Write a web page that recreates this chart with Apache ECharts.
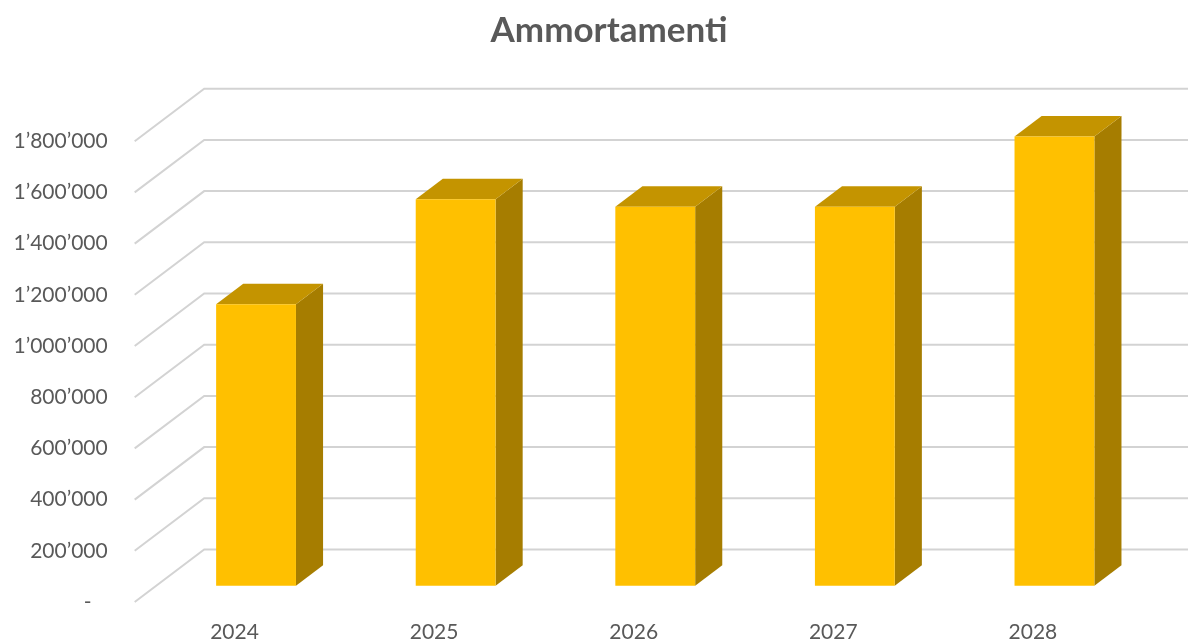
<!DOCTYPE html>
<html>
<head>
<meta charset="utf-8">
<script src="https://cdn.jsdelivr.net/npm/echarts@6/dist/echarts.min.js"></script>
<style>
  html, body { margin: 0; padding: 0; background: #ffffff; }
  #chart { width: 1188px; height: 642px; }
</style>
</head>
<body>
<div id="chart"></div>
<script>
// Depreciation by year
const years = ['2024', '2025', '2026', '2027', '2028'];
const ammortamenti = [1100000, 1510000, 1480000, 1480000, 1755000];
const yTicks = [0, 200000, 400000, 600000, 800000, 1000000, 1200000, 1400000, 1600000, 1800000];

// Oblique projection of the chart box depth (pixels, front -> back wall)
const DEPTH_X = 69.5;
const DEPTH_Y = -52.5;
// Column placement inside the box (fractions of depth / category band)
const BAR_FRONT = 0.31;
const BAR_DEPTH = 0.39;
const BAR_WIDTH = 0.40;

const TEXT = '#595959';
const GRID = '#D3D3D3';

function formatTick(v) {
  if (v === 0) return '-   ';
  return String(v).replace(/\B(?=(\d{3})+(?!\d))/g, '\u2019');
}

const chart = echarts.init(document.getElementById('chart'), null, { renderer: 'canvas' });

const option = {
  backgroundColor: '#ffffff',
  animation: false,
  title: {
    text: 'Ammortamenti',
    left: 604,
    textAlign: 'center',
    top: 8,
    textStyle: { color: TEXT, fontFamily: 'Lato', fontWeight: 'bold', fontSize: 35 }
  },
  grid: {
    left: 134.7,
    right: 55.3,
    top: 141.2,
    bottom: 40,
    containLabel: false,
    outerBoundsMode: 'none'
  },
  xAxis: {
    type: 'category',
    data: years,
    boundaryGap: true,
    axisLine: { show: false },
    axisTick: { show: false },
    splitLine: { show: false },
    axisLabel: { color: TEXT, fontFamily: 'Lato', fontSize: 21, margin: 20 }
  },
  yAxis: {
    type: 'value',
    min: 0,
    max: 1800000,
    interval: 200000,
    axisLine: { show: false },
    axisTick: { show: false },
    splitLine: { show: false },
    axisLabel: { color: TEXT, fontFamily: 'Lato', fontSize: 21, margin: 27, formatter: formatTick }
  },
  series: [
    {
      // floor-to-back-wall gridlines
      type: 'custom',
      z: 1,
      silent: true,
      data: yTicks.map(v => [0, v]),
      encode: { x: 0, y: 1 },
      renderItem: function (params, api) {
        const p = api.coord([0, api.value(1)]);
        const band = api.size([1, 0])[0];
        const x0 = p[0] - band / 2;
        const y0 = p[1];
        return {
          type: 'polyline',
          shape: {
            points: [
              [x0, y0],
              [x0 + DEPTH_X, y0 + DEPTH_Y],
              [api.getWidth() + 10, y0 + DEPTH_Y]
            ]
          },
          style: { stroke: GRID, lineWidth: 2, fill: null }
        };
      }
    },
    {
      // 3D-style columns
      type: 'custom',
      z: 5,
      data: years.map((y, i) => [i, ammortamenti[i]]),
      encode: { x: 0, y: 1 },
      renderItem: function (params, api) {
        const i = api.value(0);
        const base = api.coord([i, 0]);
        const top = api.coord([i, api.value(1)]);
        const band = api.size([1, 0])[0];
        const w = band * BAR_WIDTH;
        const xl = base[0] - w / 2 + DEPTH_X * BAR_FRONT;
        const xr = xl + w;
        const yb = base[1] + DEPTH_Y * BAR_FRONT;
        const yt = top[1] + DEPTH_Y * BAR_FRONT;
        const dx = DEPTH_X * BAR_DEPTH;
        const dy = DEPTH_Y * BAR_DEPTH;
        return {
          type: 'group',
          children: [
            {
              type: 'polygon',
              shape: { points: [[xr, yt], [xr, yb], [xr + dx, yb + dy], [xr + dx, yt + dy]] },
              style: { fill: '#A67D00' }
            },
            {
              type: 'polygon',
              shape: { points: [[xl, yt], [xr, yt], [xr + dx, yt + dy], [xl + dx, yt + dy]] },
              style: { fill: '#C49400' }
            },
            {
              type: 'rect',
              shape: { x: xl, y: yt, width: w, height: yb - yt },
              style: { fill: '#FFC000' }
            }
          ]
        };
      }
    }
  ]
};

chart.setOption(option);
</script>
</body>
</html>
